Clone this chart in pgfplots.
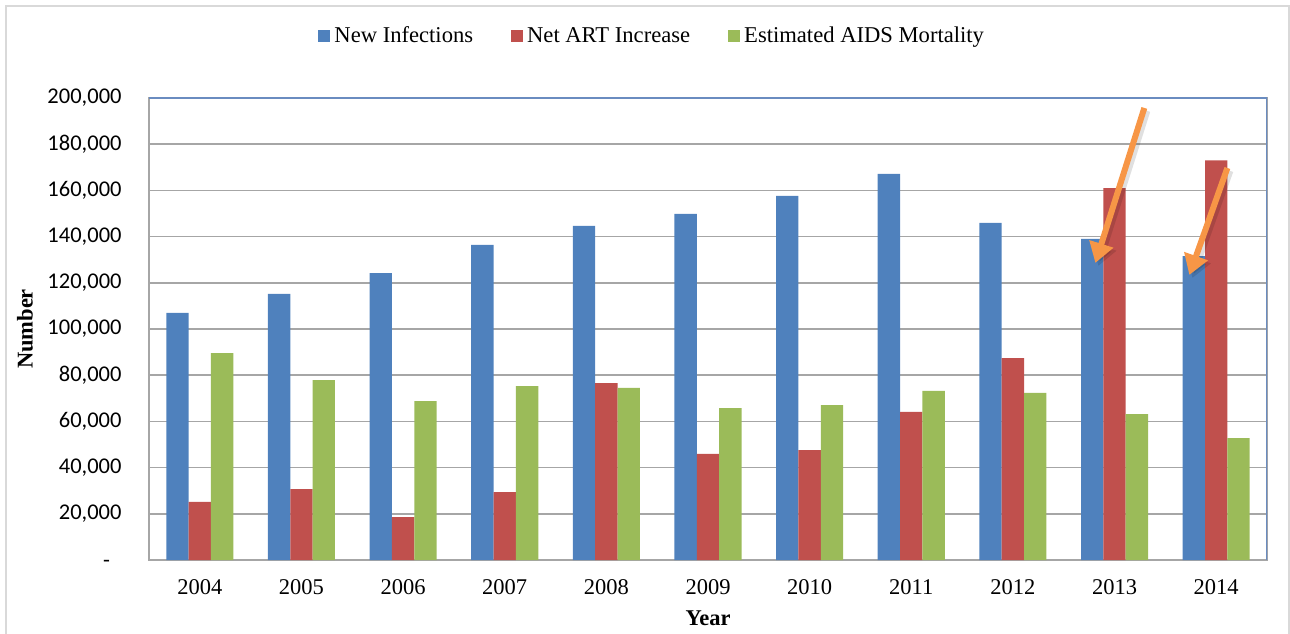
\documentclass[border=0pt]{standalone}
\usepackage{fontspec}
\setmainfont{Liberation Serif}
\newfontfamily\carlito{Carlito}
\usepackage{pgfplots}
\usepackage{pgfplotstable}
\pgfplotsset{compat=1.18}
\usetikzlibrary{arrows.meta}

\definecolor{infblue}{HTML}{4F81BD}
\definecolor{artred}{HTML}{C0504D}
\definecolor{mortgreen}{HTML}{9BBB59}
\definecolor{callout}{HTML}{F79646}
\definecolor{gridgray}{HTML}{A6A6A6}
\definecolor{framegray}{HTML}{D9D9D9}
\definecolor{boxblue}{HTML}{6A8CC0}

% year index, new infections, net ART increase, estimated AIDS mortality
\pgfplotstableread{
idx year infections art mortality
0  2004 107000  25200 89600
1  2005 115200  30700 77900
2  2006 124200  18600 68800
3  2007 136400  29400 75300
4  2008 144600  76600 74500
5  2009 149800  45900 65800
6  2010 157600  47600 67100
7  2011 167100  64100 73200
8  2012 145900  87400 72300
9  2013 139000 161000 63200
10 2014 131600 173000 52800
}\datatable

\pgfplotsset{
  sqlegend/.style={legend image code/.code={%
      \fill[##1,draw=none] (0pt,-3pt) rectangle (6pt,3pt);}},
}

\begin{document}
\begin{tikzpicture}
\useasboundingbox (0,0) rectangle (645pt,316.5pt);
\draw[framegray, line width=0.7pt] (3pt,-5pt) rectangle (644.5pt,313.5pt);
\begin{axis}[
  at={(74.5pt,36.5pt)}, anchor=south west,
  scale only axis, width=559pt, height=231pt,
  xmin=-0.5, xmax=10.5, ymin=0, ymax=200000,
  ybar=0pt, bar width=0.22,
  xtick={0,...,10},
  xticklabels={2004,2005,2006,2007,2008,2009,2010,2011,2012,2013,2014},
  ytick={0,20000,...,200000},
  yticklabels={{-\phantom{0}},{20,000},{40,000},{60,000},{80,000},{100,000},
               {120,000},{140,000},{160,000},{180,000},{200,000}},
  scaled y ticks=false,
  major tick length=0pt,
  ymajorgrids, grid style={gridgray, line width=0.75pt},
  axis line style={gridgray, line width=0.75pt},
  yticklabel style={font=\carlito\fontsize{11.25}{13}\selectfont, anchor=east, xshift=-10.2pt},
  xticklabel style={font=\fontsize{11.25}{13}\selectfont, anchor=center, yshift=-13.5pt},
  xlabel={\textbf{Year}}, ylabel={\textbf{Number}},
  xlabel style={font=\fontsize{11.25}{13}\selectfont, at={(axis description cs:0.5,-0.1255)}, anchor=center},
  ylabel style={font=\fontsize{11.25}{13}\selectfont, at={(axis description cs:-0.111,0.5)}, anchor=center},
  legend style={at={(0.451,1.134)}, anchor=center, draw=none, fill=none,
    legend columns=3, font=\fontsize{11.3}{13}\selectfont,
    /tikz/every even column/.append style={column sep=17pt}},
  legend cell align=left,
]
\addplot[fill=infblue, draw=none, bar shift=-0.22, sqlegend] table[x=idx, y=infections] {\datatable};
\addlegendentry{New Infections}
\addplot[fill=artred, draw=none, bar shift=0, sqlegend] table[x=idx, y=art] {\datatable};
\addlegendentry{Net ART Increase}
\addplot[fill=mortgreen, draw=none, bar shift=0.22, sqlegend] table[x=idx, y=mortality] {\datatable};
\addlegendentry{Estimated AIDS Mortality}

% frame on the top and right sides of the plot area
\draw[boxblue, line width=0.75pt] (rel axis cs:0,1) -- (rel axis cs:1,1) -- (rel axis cs:1,0);

% call-out arrows pointing at the 2013 and 2014 new infections, with a soft shadow
\begin{scope}[black, opacity=0.12, line width=3pt, -{Triangle[width=12pt,length=10pt]},
              transform canvas={xshift=1.5pt, yshift=-1.5pt}]
  \draw (axis cs:9.293,195700) -- (axis cs:8.811,128600);
  \draw (axis cs:10.11,169700) -- (axis cs:9.736,123400);
\end{scope}
\draw[callout, line width=3pt, -{Triangle[width=12pt,length=10pt]}]
  (axis cs:9.293,195700) -- (axis cs:8.811,128600);
\draw[callout, line width=3pt, -{Triangle[width=12pt,length=10pt]}]
  (axis cs:10.11,169700) -- (axis cs:9.736,123400);
\end{axis}
\end{tikzpicture}
\end{document}
